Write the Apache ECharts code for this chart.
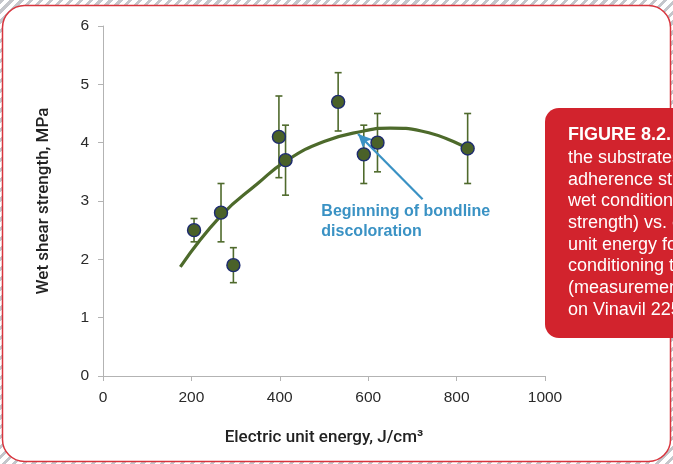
<!DOCTYPE html>
<html>
<head>
<meta charset="utf-8">
<script src="https://cdn.jsdelivr.net/npm/echarts@6/dist/echarts.min.js"></script>
<style>
  html, body { margin: 0; padding: 0; }
  body {
    width: 673px; height: 464px; overflow: hidden;
    background: repeating-linear-gradient(135deg, #c4c6cb 0px, #c4c6cb 3px, #ffffff 3px, #ffffff 7px);
  }
  #chart { width: 673px; height: 464px; }
</style>
</head>
<body>
<div id="chart"></div>
<script>
// Electric unit energy (J/cm3) of each measured specimen group
const energy = [206, 267, 295, 398, 413, 532, 590, 621, 825];
// Mean wet shear strength (MPa)
const strength = [2.5, 2.8, 1.9, 4.1, 3.7, 4.7, 3.8, 4.0, 3.9];
// Lower and upper ends of the error bars (MPa)
const errLow = [2.3, 2.3, 1.6, 3.4, 3.1, 4.2, 3.3, 3.5, 3.3];
const errHigh = [2.7, 3.3, 2.2, 4.8, 4.3, 5.2, 4.3, 4.5, 4.5];
// Trend curve points
const trendX = [175, 267, 350, 413, 500, 590, 650, 720, 825];
const trendY = [1.87, 2.75, 3.3, 3.68, 4.02, 4.2, 4.25, 4.2, 3.9];
// Axis ticks
const xTicks = [0, 200, 400, 600, 800, 1000];
const yTicks = [0, 1, 2, 3, 4, 5, 6];
// Annotation arrow: tail and head in data space
const arrowTail = [723, 3.03];
const arrowHead = [577, 4.15];
const noteText = 'Beginning of bondline\ndiscoloration';
const noteAt = [494, 3.0];

const captionTitle = 'FIGURE 8.2.';
const captionLines = [
  'the substrates',
  'adherence strength',
  'wet conditions',
  'strength) vs. electric',
  'unit energy for',
  'conditioning time',
  '(measurements',
  'on Vinavil 225'
];

const chart = echarts.init(document.getElementById('chart'), null, { renderer: 'canvas' });

const tickFont = { color: '#2a2a2a', fontFamily: '"Liberation Sans", Arial, sans-serif', fontSize: 15.5 };
const titleFont = { color: '#222', fontFamily: 'Roboto, "Liberation Sans", Arial, sans-serif', fontSize: 17, fontWeight: 500 };
const green = '#4d6a2b';

const option = {
  backgroundColor: 'transparent',
  animation: false,
  grid: { left: 103, right: 128, top: 26, bottom: 88 },
  xAxis: {
    type: 'value', min: xTicks[0], max: xTicks[xTicks.length - 1], interval: 200,
    name: 'Electric unit energy, J/cm³', nameLocation: 'middle', nameGap: 53,
    nameTextStyle: titleFont,
    axisLine: { lineStyle: { color: '#b3b3b3', width: 1 } },
    axisTick: { show: true, length: 5, lineStyle: { color: '#b3b3b3' } },
    axisLabel: Object.assign({ margin: 14, formatter: v => String(v) }, tickFont),
    splitLine: { show: false }
  },
  yAxis: {
    type: 'value', min: yTicks[0], max: yTicks[yTicks.length - 1], interval: 1,
    name: 'Wet shear strength, MPa', nameLocation: 'middle', nameGap: 51, nameRotate: 90,
    nameTextStyle: titleFont,
    axisLine: { show: true, lineStyle: { color: '#b3b3b3', width: 1 } },
    axisTick: { show: true, length: 5, lineStyle: { color: '#b3b3b3' } },
    axisLabel: Object.assign({ margin: 14 }, tickFont),
    splitLine: { show: false }
  },
  series: [
    {
      type: 'line',
      data: trendX.map((x, i) => [x, trendY[i]]),
      smooth: 0.5,
      showSymbol: false,
      lineStyle: { color: green, width: 3.2 },
      z: 3,
      markLine: {
        silent: true,
        symbol: ['none', 'arrow'],
        symbolSize: [10, 14],
        lineStyle: { color: '#3a92c4', width: 2.2, type: 'solid' },
        label: { show: false },
        data: [[{ coord: arrowTail }, { coord: arrowHead }]]
      }
    },
    {
      type: 'custom',
      data: energy.map((x, i) => [x, errLow[i], errHigh[i]]),
      renderItem: function (params, api) {
        const lo = api.coord([api.value(0), api.value(1)]);
        const hi = api.coord([api.value(0), api.value(2)]);
        const cap = 3.5;
        const st = { stroke: '#4f6a2c', lineWidth: 1.6 };
        return {
          type: 'group',
          children: [
            { type: 'line', shape: { x1: lo[0], y1: lo[1], x2: hi[0], y2: hi[1] }, style: st },
            { type: 'line', shape: { x1: lo[0] - cap, y1: lo[1], x2: lo[0] + cap, y2: lo[1] }, style: st },
            { type: 'line', shape: { x1: hi[0] - cap, y1: hi[1], x2: hi[0] + cap, y2: hi[1] }, style: st }
          ]
        };
      },
      z: 4
    },
    {
      type: 'scatter',
      data: energy.map((x, i) => [x, strength[i]]),
      symbol: 'circle',
      symbolSize: 13,
      itemStyle: { color: '#4a6128', borderColor: '#1d2b70', borderWidth: 1.4, opacity: 1 },
      z: 5
    }
  ]
};

chart.setOption(option);

// Page decoration: white framed panel and the red caption box
const notePx = chart.convertToPixel({ gridIndex: 0 }, noteAt);
chart.setOption({
  graphic: [
    {
      type: 'rect', z: -10, silent: true,
      shape: { x: 2.5, y: 5.5, width: 668, height: 456, r: 22 },
      style: { fill: '#ffffff', stroke: '#d8343d', lineWidth: 1.5 }
    },
    {
      type: 'rect', z: 10, silent: true,
      shape: { x: 545, y: 108, width: 160, height: 230, r: 14 },
      style: { fill: '#d2232d' }
    },
    {
      type: 'text', z: 11, silent: true, left: 568, top: 126,
      style: { text: captionTitle, fill: '#ffffff', font: 'bold 18px "Liberation Sans", Arial, sans-serif' }
    },
    {
      type: 'text', z: 11, silent: true, left: 568, top: 147,
      style: { text: captionLines.join('\n'), fill: '#ffffff', font: '18px "Liberation Sans", Arial, sans-serif', lineHeight: 21.7 }
    },
    {
      type: 'text', z: 11, silent: true, left: notePx[0], top: notePx[1],
      style: { text: noteText, fill: '#3a92c4', font: 'bold 16px "Liberation Sans", Arial, sans-serif', lineHeight: 20.5 }
    }
  ]
});
</script>
</body>
</html>
